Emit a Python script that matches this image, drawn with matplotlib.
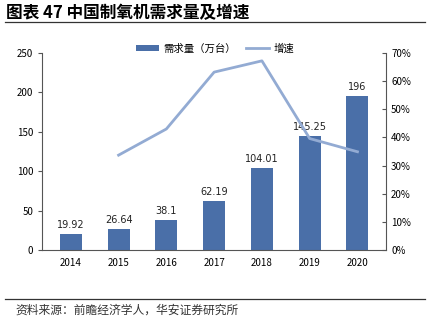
import matplotlib.pyplot as plt
import numpy as np

plt.rcParams['font.family'] = ['Noto Sans CJK SC', 'DejaVu Sans']

years = ['2014', '2015', '2016', '2017', '2018', '2019', '2020']
demand = [19.92, 26.64, 38.1, 62.19, 104.01, 145.25, 196]
growth = [None, 33.7, 43.0, 63.2, 67.2, 39.6, 34.9]  # %

bar_color = '#4a6fa8'
line_color = '#93abd3'
spine_color = '#555555'

fig = plt.figure(figsize=(4.3, 3.23), dpi=100)
ax = fig.add_axes([0.098, 0.226, 0.8, 0.61])
ax2 = ax.twinx()

x = np.arange(len(years))
ax.bar(x, demand, width=0.46, color=bar_color, label='需求量（万台）', zorder=2)
for xi, v in zip(x, demand):
    ax.text(xi, v + 5, f'{v:g}', ha='center', va='bottom', fontsize=7, color='#222222',
            family=['DejaVu Sans'])

gx = [xi for xi, g in zip(x, growth) if g is not None]
gy = [g for g in growth if g is not None]
ax2.plot(gx, gy, color=line_color, lw=2, label='增速', zorder=3)

ax.set_xlim(-0.6, 6.6)
ax.set_ylim(0, 250)
ax.set_yticks([0, 50, 100, 150, 200, 250])
ax2.set_ylim(0, 70)
ax2.set_yticks(range(0, 71, 10))
ax2.set_yticklabels([f'{t}%' for t in range(0, 71, 10)])

ax.set_xticks(x)
ax.set_xticklabels(years)
ax.tick_params(axis='x', length=0, labelsize=7, pad=6)
ax.tick_params(axis='y', length=3, labelsize=7, color=spine_color, direction='out')
ax2.tick_params(axis='y', length=3, labelsize=7, color=spine_color, direction='in')

for a in (ax, ax2):
    a.spines['top'].set_visible(False)
    for s in ('left', 'right', 'bottom'):
        a.spines[s].set_color(spine_color)
        a.spines[s].set_linewidth(0.8)
ax2.spines['left'].set_visible(False)
ax2.spines['bottom'].set_visible(False)
ax.spines['right'].set_visible(False)

h1, l1 = ax.get_legend_handles_labels()
h2, l2 = ax2.get_legend_handles_labels()
fig.legend(h1 + h2, l1 + l2, loc='center', bbox_to_anchor=(0.5, 0.85), ncol=2,
           frameon=False, fontsize=7.5, handlelength=2.2, handleheight=0.6,
           columnspacing=1.0, handletextpad=0.4)

fig.text(0.014, 0.987, '图表 47 中国制氧机需求量及增速', fontsize=12, fontweight='bold',
         va='top', ha='left')
fig.add_artist(plt.Line2D([0.012, 0.988], [0.933, 0.933], color='#333333', lw=0.9))
fig.add_artist(plt.Line2D([0.012, 0.988], [0.075, 0.075], color='#333333', lw=0.9))
fig.text(0.035, 0.04, '资料来源：前瞻经济学人，华安证券研究所', fontsize=8.5,
         va='center', ha='left', color='#333333')

fig.savefig('out.png', dpi=100)
